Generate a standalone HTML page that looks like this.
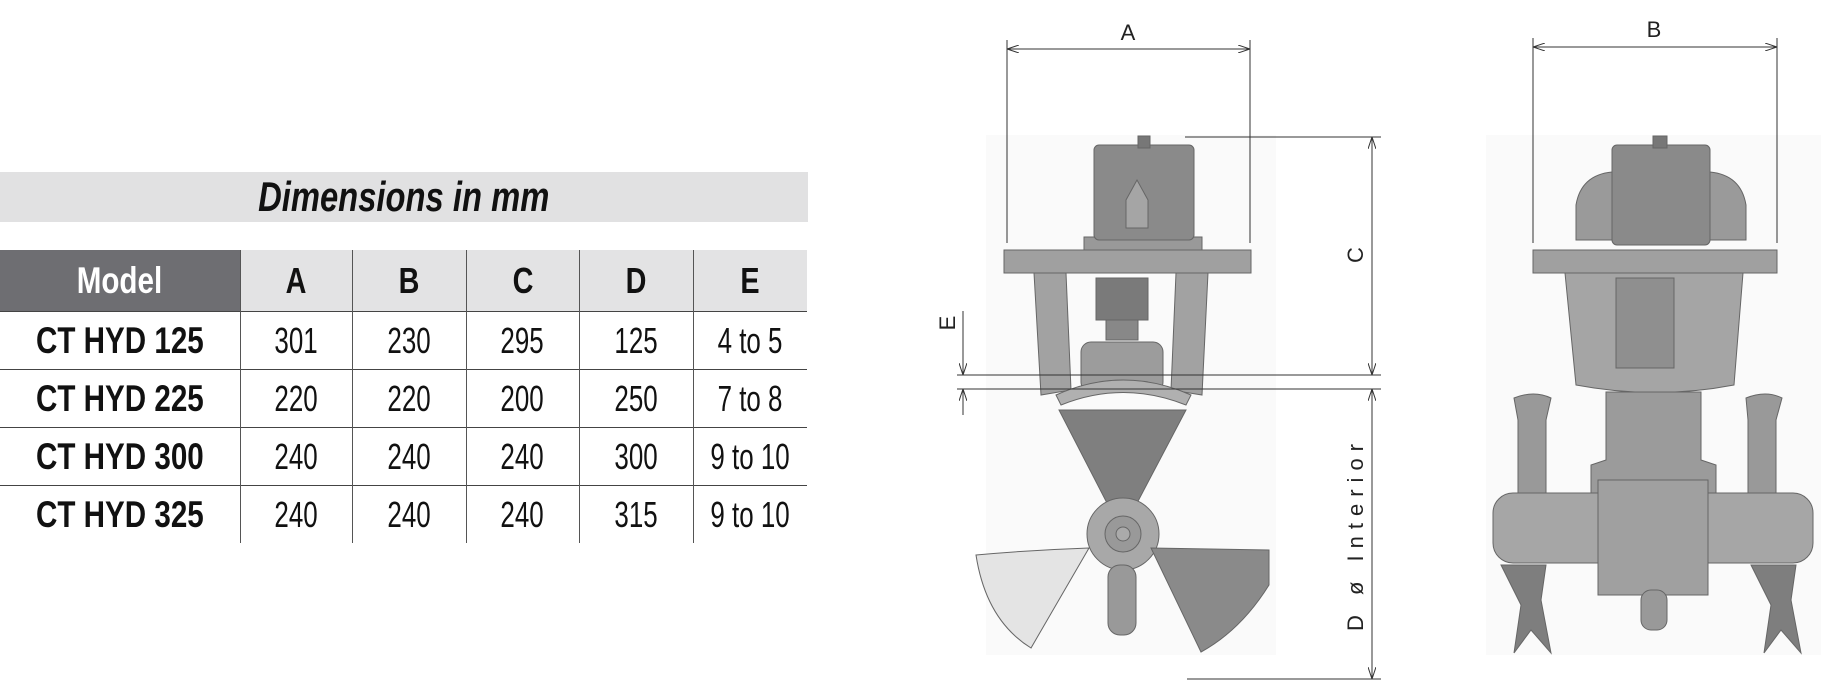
<!DOCTYPE html>
<html><head><meta charset="utf-8"><style>
body{margin:0;width:1840px;height:692px;background:#fff;position:relative;overflow:hidden;font-family:"Liberation Sans",sans-serif}
.band{position:absolute;left:0;top:172px;width:808px;height:50px;background:#e1e1e2;text-align:center;font:italic bold 42px/50px "Liberation Sans",sans-serif;color:#111}
.n{display:inline-block;transform:scaleX(0.72);white-space:nowrap}
.b{display:inline-block;transform:scaleX(0.8);white-space:nowrap}
.t{display:inline-block;transform:scaleX(0.78);white-space:nowrap}
table{position:absolute;left:0;top:250px;border-collapse:collapse;width:807px;table-layout:fixed}
td{height:57px;text-align:center;font-size:36px;color:#111;padding:0;border-left:1px solid #555;overflow:visible}
td:first-child{border-left:none;font-weight:bold;font-size:37px}
tr.h td{height:61px;background:#e3e3e4;font-weight:bold;font-size:36px}
tr.h td:first-child{background:#6e6e72;color:#fff;font-size:37px}
tr.r td{border-top:1px solid #444}
svg{position:absolute;left:0;top:0}
</style></head><body>
<div class="band"><span class="t">Dimensions in mm</span></div>
<table>
<colgroup><col style="width:240px"><col style="width:112px"><col style="width:114px"><col style="width:113px"><col style="width:114px"><col style="width:114px"></colgroup>
<tr class="h"><td><span class="b">Model</span></td><td><span class="b">A</span></td><td><span class="b">B</span></td><td><span class="b">C</span></td><td><span class="b">D</span></td><td><span class="b">E</span></td></tr>
<tr class="r"><td><span class="b">CT HYD 125</span></td><td><span class="n">301</span></td><td><span class="n">230</span></td><td><span class="n">295</span></td><td><span class="n">125</span></td><td><span class="n">4 to 5</span></td></tr>
<tr class="r"><td><span class="b">CT HYD 225</span></td><td><span class="n">220</span></td><td><span class="n">220</span></td><td><span class="n">200</span></td><td><span class="n">250</span></td><td><span class="n">7 to 8</span></td></tr>
<tr class="r"><td><span class="b">CT HYD 300</span></td><td><span class="n">240</span></td><td><span class="n">240</span></td><td><span class="n">240</span></td><td><span class="n">300</span></td><td><span class="n">9 to 10</span></td></tr>
<tr class="r"><td><span class="b">CT HYD 325</span></td><td><span class="n">240</span></td><td><span class="n">240</span></td><td><span class="n">240</span></td><td><span class="n">315</span></td><td><span class="n">9 to 10</span></td></tr>
</table>
<svg width="1840" height="692" viewBox="0 0 1840 692">
<defs><marker id="ar" markerWidth="12" markerHeight="8" refX="12" refY="4" orient="auto-start-reverse"><path d="M0,0 L12,4 L0,8" fill="none" stroke="#333" stroke-width="1"/></marker></defs>
<g transform="translate(-14,0)">
<rect x="1000" y="135" width="290" height="520" fill="#fafafa"/>
<rect x="1500" y="135" width="335" height="520" fill="#fafafa"/>
<g fill="#8c8c8c" stroke="#666" stroke-width="1">
<rect x="1098" y="237" width="118" height="14" fill="#999"/>
<rect x="1108" y="145" width="100" height="95" rx="5" fill="#8a8a8a"/>
<rect x="1152" y="136" width="12" height="12" fill="#777"/>
<path d="M1140,200 L1151,180 L1162,200 L1162,228 L1140,228Z" fill="#a5a5a5"/>
<rect x="1018" y="250" width="247" height="23" fill="#a0a0a0"/>
<path d="M1048,273 L1080,273 L1085,390 L1055,395Z" fill="#a2a2a2"/>
<path d="M1190,273 L1222,273 L1216,395 L1185,390Z" fill="#a2a2a2"/>
<rect x="1110" y="278" width="52" height="42" fill="#7a7a7a"/>
<rect x="1120" y="320" width="32" height="20" fill="#888"/>
<rect x="1095" y="342" width="82" height="50" rx="10" fill="#9c9c9c"/>
<path d="M1070,395 Q1137,365 1205,395 L1200,405 Q1137,380 1075,405Z" fill="#b0b0b0"/>
<path d="M1073,410 L1200,410 L1150,505 L1122,505Z" fill="#7f7f7f"/>
<circle cx="1137" cy="534" r="36" fill="#a8a8a8"/>
<circle cx="1137" cy="534" r="18" fill="#999"/>
<circle cx="1137" cy="534" r="7" fill="#aaa"/>
<path d="M1103,548 Q1045,550 990,555 Q1000,620 1045,648 Z" fill="#e4e4e4"/>
<path d="M1165,548 L1283,550 L1283,585 Q1255,630 1215,652 Z" fill="#8a8a8a"/>
<rect x="1122" y="565" width="28" height="70" rx="12" fill="#999"/>
</g>
<g fill="#8c8c8c" stroke="#666" stroke-width="1">
<path d="M1590,205 Q1595,175 1626,172 L1626,240 L1590,240Z" fill="#9a9a9a"/>
<path d="M1724,172 Q1755,175 1760,205 L1760,240 L1724,240Z" fill="#9a9a9a"/>
<rect x="1626" y="145" width="98" height="100" rx="5" fill="#8a8a8a"/>
<rect x="1667" y="136" width="14" height="12" fill="#777"/>
<rect x="1547" y="250" width="244" height="23" fill="#a0a0a0"/>
<path d="M1579,273 L1757,273 L1748,385 Q1670,400 1590,385Z" fill="#a5a5a5"/>
<rect x="1630" y="278" width="58" height="90" fill="#8f8f8f"/>
<path d="M1620,392 L1715,392 L1715,460 L1730,465 L1730,495 L1605,495 L1605,465 L1620,460Z" fill="#9b9b9b"/>
<path d="M1528,398 Q1548,390 1565,398 L1560,420 L1560,500 L1532,500 L1532,420Z" fill="#999"/>
<path d="M1760,398 Q1780,390 1796,398 L1790,420 L1790,500 L1762,500 L1762,420Z" fill="#999"/>
<rect x="1507" y="493" width="320" height="70" rx="20" fill="#a6a6a6"/>
<rect x="1612" y="480" width="110" height="115" fill="#a0a0a0"/>
<rect x="1655" y="590" width="26" height="40" rx="10" fill="#999"/>
<path d="M1515,565 L1560,565 L1555,600 L1565,653 L1545,630 L1528,653 L1535,605Z" fill="#7e7e7e"/>
<path d="M1765,565 L1810,565 L1805,600 L1815,653 L1795,630 L1778,653 L1785,605Z" fill="#7e7e7e"/>
</g>
<g stroke="#333" stroke-width="1" fill="none">
<line x1="1021" y1="40" x2="1021" y2="243"/><line x1="1264" y1="40" x2="1264" y2="243"/>
<line x1="1021" y1="49" x2="1264" y2="49" marker-start="url(#ar)" marker-end="url(#ar)"/>
<line x1="1547" y1="38" x2="1547" y2="243"/><line x1="1791" y1="38" x2="1791" y2="243"/>
<line x1="1547" y1="47" x2="1791" y2="47" marker-start="url(#ar)" marker-end="url(#ar)"/>
<line x1="1199" y1="137" x2="1395" y2="137"/>
<line x1="1386" y1="137" x2="1386" y2="375" marker-start="url(#ar)" marker-end="url(#ar)"/>
<line x1="971" y1="375" x2="1395" y2="375"/>
<line x1="971" y1="389" x2="1395" y2="389"/>
<line x1="1386" y1="389" x2="1386" y2="679" marker-start="url(#ar)" marker-end="url(#ar)"/>
<line x1="1201" y1="679" x2="1395" y2="679"/>
<line x1="977" y1="311" x2="977" y2="375" marker-end="url(#ar)"/>
<line x1="977" y1="415" x2="977" y2="389" marker-end="url(#ar)"/>
</g>
<g font-family="Liberation Sans, sans-serif" font-size="22" fill="#222" text-anchor="middle">
<text x="1142" y="40">A</text>
<text x="1668" y="37">B</text>
<text transform="translate(1377,255) rotate(-90)">C</text>
<text transform="translate(969,323) rotate(-90)">E</text>
<text transform="translate(1377,534) rotate(-90)" letter-spacing="7">D ø Interior</text>
</g>
</g>
</svg>
</body></html>
